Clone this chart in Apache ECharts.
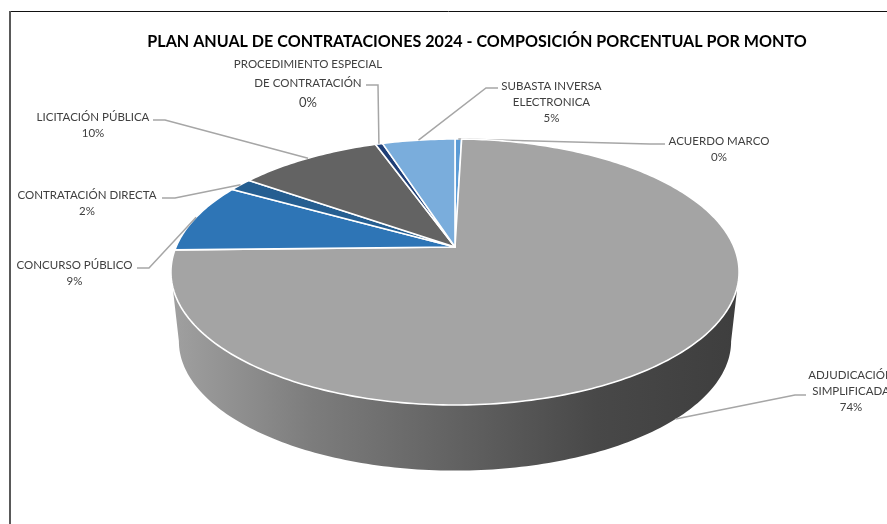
<!DOCTYPE html>
<html><head><meta charset="utf-8">
<style>html,body{margin:0;padding:0;background:#fff}#c{width:887px;height:524px}</style>
<script src="https://cdn.jsdelivr.net/npm/echarts@6/dist/echarts.min.js"></script>
</head><body><div id="c"></div>
<script>
const categories = ['ACUERDO MARCO','ADJUDICACIÓN\nSIMPLIFICADA','CONCURSO PÚBLICO','CONTRATACIÓN DIRECTA','LICITACIÓN PÚBLICA','PROCEDIMIENTO ESPECIAL\nDE CONTRATACIÓN','SUBASTA INVERSA\nELECTRONICA'];
const shares = [0.45, 74.2, 8.5, 1.6, 9.8, 0.49, 4.96];
const colors = ['#5B9BD5','#A4A4A4','#2E75B6','#255E91','#636363','#1F3F77','#7AADDC'];
const titleText = 'PLAN ANUAL DE CONTRATACIONES 2024 - COMPOSICIÓN PORCENTUAL POR MONTO';

// label placement: centre x, top y, elbow of the leader line, start of the leader line
const labelLayout = [
  {x:719, y:133, sx:665, sy:144, ex:650, ey:144},
  {x:851, y:367, sx:806, sy:395, ex:795, ey:395},
  {x:74.5,y:257, sx:137, sy:268, ex:149, ey:268},
  {x:87,  y:187, sx:162, sy:198, ex:175, ey:198},
  {x:93,  y:109, sx:153, sy:120, ex:165, ey:120},
  {x:308, y:55,  sx:366, sy:85,  ex:378, ey:85, tall:true},
  {x:551.5,y:78, sx:498, sy:88,  ex:486, ey:88}
];

// perspective of the disc: apex on screen, scales, perspective factor
const view = {cx:455, cy:247, sx:279, sy:128.3, k:-0.188, depthY:70, depthScale:0.972};
const total = shares.reduce((a,b)=>a+b,0);
const starts = shares.map((_,i)=>shares.slice(0,i).reduce((a,b)=>a+b,0)/total*360);

function rim(deg, lower){
  const t = deg*Math.PI/180, u = Math.sin(t), v = -Math.cos(t), w = 1+view.k*v;
  const X = view.sx*u/w, Y = view.sy*v/w;
  return lower ? [view.cx+X*view.depthScale, view.cy+view.depthY+Y*view.depthScale]
               : [view.cx+X, view.cy+Y];
}
function arc(a,b,lower){
  const n = Math.max(2,Math.ceil(Math.abs(b-a))), pts=[];
  for(let i=0;i<=n;i++) pts.push(rim(a+(b-a)*i/n,lower));
  return pts;
}
const wallFrom = 100.8, wallTo = 259.2;
const wallFill = {type:'linear',x:172,y:0,x2:738,y2:0,global:true,colorStops:[
  {offset:0,color:'#a0a0a0'},{offset:0.25,color:'#7c7c7c'},{offset:0.5,color:'#626262'},{offset:0.75,color:'#484848'},{offset:1,color:'#3e3e3e'}]};

function renderSlice(params, api){
  const i = params.dataIndex, value = api.value(0);
  const a = starts[i], b = a + value/total*360, mid = (a+b)/2;
  const kids = [];
  const w0 = Math.max(a,wallFrom), w1 = Math.min(b,wallTo);
  if(w1>w0){
    kids.push({type:'polygon',shape:{points:arc(w0,w1,false).concat(arc(w1,w0,true))},style:{fill:wallFill,stroke:null},silent:true});
  }
  kids.push({type:'polygon',shape:{points:[[view.cx,view.cy]].concat(arc(a,b,false))},
    style:{fill:colors[i],stroke:'#fff',lineWidth:1.6,lineJoin:'round'},silent:true});
  const L = labelLayout[i];
  const onFront = mid>wallFrom && mid<wallTo;
  kids.push({type:'polyline',shape:{points:[[L.sx,L.sy],[L.ex,L.ey],rim(mid,onFront)]},
    style:{fill:null,stroke:'#a6a6a6',lineWidth:1.5},silent:true});
  const pct = Math.round(value/total*100)+'%';
  const pctStyle = L.tall?'q':'p', nameBox = L.tall?'t':'n';
  const txt = categories[i].split('\n').map(s=>'{'+nameBox+'|'+s+'}').join('\n')+'\n{'+pctStyle+'|'+pct+'}';
  kids.push({type:'text',style:{x:L.x,y:L.y,align:'center',verticalAlign:'top',text:txt,
    fill:'#404040',fontFamily:'Lato',
    rich:{n:{fontSize:11.5,lineHeight:16,fontFamily:'Lato',fill:'#404040'},
          p:{fontSize:11.5,lineHeight:16,fontFamily:'Lato',fill:'#404040'},
          t:{fontSize:11.5,lineHeight:19,fontFamily:'Lato',fill:'#404040'},
          q:{fontSize:13,lineHeight:19,fontFamily:'Lato',fill:'#404040'}}},silent:true});
  return {type:'group',children:kids};
}

const chart = echarts.init(document.getElementById('c'),null,{renderer:'canvas'});
chart.setOption({
  animation:false,
  backgroundColor:'#fff',
  title:{text:titleText,left:472,top:29,textAlign:'center',
    textStyle:{fontFamily:'Lato',fontWeight:'bold',fontSize:16.1,color:'#000'}},
  graphic:[
    {type:'line',shape:{x1:10,y1:11.5,x2:887,y2:11.5},style:{stroke:'#111',lineWidth:1}},
    {type:'line',shape:{x1:10,y1:11,x2:10,y2:524},style:{stroke:'#595959',lineWidth:2}}
  ],
  series:[{type:'custom',coordinateSystem:'none',renderItem:renderSlice,
    data:shares.map((v,i)=>({name:categories[i],value:[v]}))}]
});
</script></body></html>
